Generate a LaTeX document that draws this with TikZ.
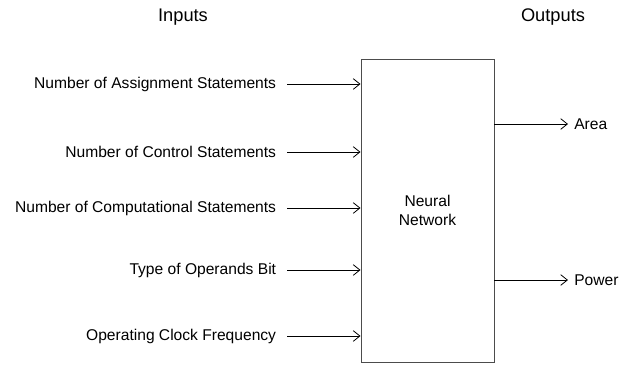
\documentclass[tikz,border=0pt]{standalone}
\usepackage{fontspec}
\setmainfont{Liberation Sans}
\usetikzlibrary{arrows.meta}

\tikzset{
  nnbox/.style   = {shape=rectangle, draw=black!70, line width=0.7pt,
                    minimum width=133*0.75pt, minimum height=303*0.75pt,
                    align=center, font=\fontsize{11.7}{14}\selectfont},
  inlabel/.style = {anchor=east, inner xsep=8pt, inner ysep=0pt,
                    font=\fontsize{11.7}{14}\selectfont},
  outlabel/.style= {anchor=west, inner xsep=4.5pt, inner ysep=0pt,
                    font=\fontsize{11.7}{14}\selectfont},
  heading/.style = {font=\fontsize{13.7}{16}\selectfont},
  feed/.style    = {draw, line width=0.6pt, -{Straight Barb[length=5pt,width=8pt]}}
}

\begin{document}
\begin{tikzpicture}[x=0.75pt, y=-0.75pt]
\useasboundingbox (0,0) rectangle (629,365);

\node[heading] (inputs)  at (183,17) {Inputs};
\node[heading] (outputs) at (553,17) {Outputs};

\node[nnbox] (nn) at (427.5,210.5) {Neural\\Network};

% inputs
\node[inlabel] (assign)  at (287,84)  {Number of Assignment Statements};
\node[inlabel] (control) at (287,152) {Number of Control Statements};
\node[inlabel] (comput)  at (287,208) {Number of Computational Statements};
\node[inlabel] (operand) at (287,270) {Type of Operands Bit};
\node[inlabel] (clock)   at (287,336) {Operating Clock Frequency};

\foreach \n in {assign,control,comput,operand,clock}
  \draw[feed] (\n) -- (\n -| nn.west);

% outputs
\node[outlabel] (area)  at (568,124) {Area};
\node[outlabel] (power) at (568,280) {Power};

\foreach \n in {area,power}
  \draw[feed] (nn.east |- \n) -- (\n);
\end{tikzpicture}
\end{document}
